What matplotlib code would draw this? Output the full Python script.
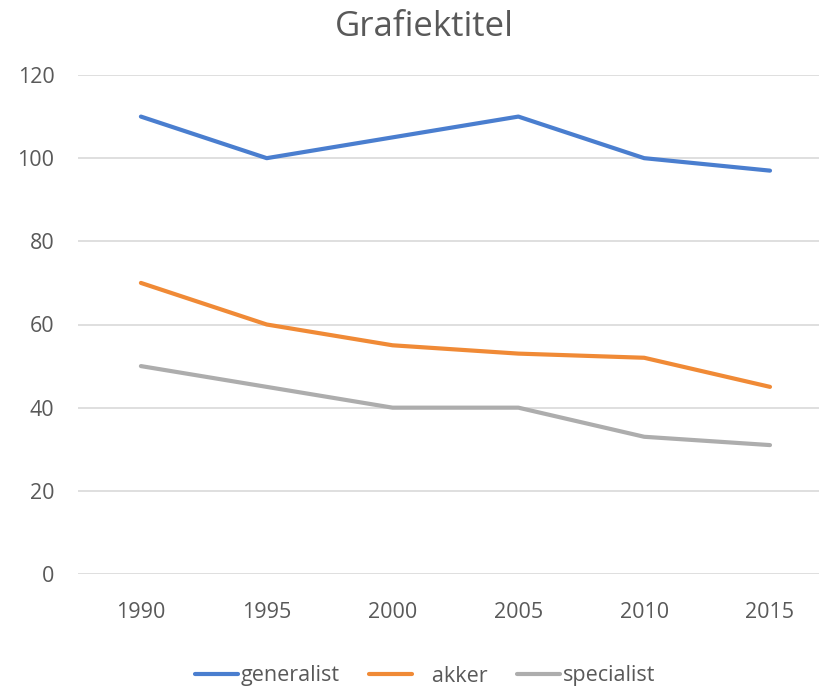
import matplotlib
matplotlib.use("Agg")
import matplotlib.pyplot as plt

years = ["1990", "1995", "2000", "2005", "2010", "2015"]
generalist = [110, 100, 105, 110, 100, 97]
akker = [70, 60, 55, 53, 52, 45]
specialist = [50, 45, 40, 40, 33, 31]
yticks = [0, 20, 40, 60, 80, 100, 120]

plt.rcParams['font.family'] = ['Open Sans', 'DejaVu Sans']
txt = '#595959'

fig = plt.figure(figsize=(8.2, 6.89), dpi=100)
ax = fig.add_axes([78/820, 1-574/689, 1-78/820, (574-75)/689])

x = list(range(len(years)))
kw = dict(lw=3, solid_capstyle='round', solid_joinstyle='round')
ax.plot(x, generalist, color='#4A7ECF', label='generalist', **kw)
ax.plot(x, akker, color='#F08A36', label='   akker', **kw)
ax.plot(x, specialist, color='#ADADAD', label='specialist', **kw)

ax.set_xlim(-0.5, (820-141)/125.8)
ax.set_ylim(0, 120)
ax.set_yticks(yticks)
ax.set_xticks(x)
ax.set_xticklabels(years)
ax.grid(axis='y', color='#D9D9D9', lw=1.2)
ax.set_axisbelow(True)
for s in ax.spines.values():
    s.set_visible(False)
ax.tick_params(length=0, labelsize=15.5, colors=txt)
ax.tick_params(axis='y', pad=17)
ax.tick_params(axis='x', pad=20)

fig.text(424/820, 1-27/689, 'Grafiektitel', ha='center', va='center', fontsize=25, color=txt)

leg = fig.legend(loc='center', bbox_to_anchor=(425/820, 1-676/689), ncol=3, frameon=False,
                 fontsize=15.5, handlelength=2.0, handletextpad=0.1, columnspacing=1.4)
for t in leg.get_texts():
    t.set_color(txt)

fig.savefig('out.png', dpi=100)
